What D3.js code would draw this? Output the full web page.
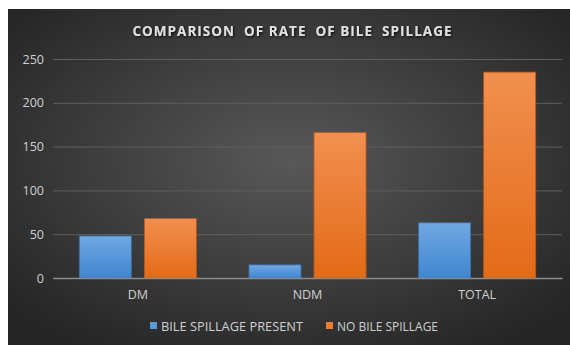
<!DOCTYPE html>
<html lang="en">
<head>
<meta charset="UTF-8">
<title>Comparison of rate of bile spillage</title>
<script src="https://d3js.org/d3.v7.min.js"></script>
<style>
  body { margin: 0; background: #fff; }
  text { font-family: "Open Sans", "Liberation Sans", sans-serif; }
</style>
</head>
<body>
<script>
// chart data
var categories = ["DM", "NDM", "TOTAL"];
var seriesNames = ["BILE SPILLAGE PRESENT", "NO BILE SPILLAGE"];
var spillPresent = [48, 15, 63];
var noSpill = [68, 166, 235];
var yTicks = [0, 50, 100, 150, 200, 250];

var W = 570, H = 345;
var svg = d3.select("body").append("svg")
    .attr("width", W)
    .attr("height", H);

var defs = svg.append("defs");
var bg = defs.append("radialGradient").attr("id", "bg")
    .attr("cx", "50%").attr("cy", "45%").attr("r", "65%");
bg.append("stop").attr("offset", "0%").attr("stop-color", "#585858");
bg.append("stop").attr("offset", "100%").attr("stop-color", "#262626");

function barGrad(id, top, bottom) {
    var g = defs.append("linearGradient").attr("id", id)
        .attr("x1", 0).attr("y1", 0).attr("x2", 0).attr("y2", 1);
    g.append("stop").attr("offset", "0%").attr("stop-color", top);
    g.append("stop").attr("offset", "100%").attr("stop-color", bottom);
}
barGrad("gBlue", "#71a8e2", "#3f86d0");
barGrad("gOrange", "#f28f50", "#e36b17");

var shadow = defs.append("filter").attr("id", "tshadow");
shadow.append("feDropShadow").attr("dx", 1).attr("dy", 1)
    .attr("stdDeviation", 1).attr("flood-color", "#000").attr("flood-opacity", 0.8);

svg.append("rect")
    .attr("x", 8).attr("y", 9)
    .attr("width", W - 8).attr("height", H - 9)
    .attr("fill", "url(#bg)");

var margin = {left: 53, right: 8, top: 59, bottom: 67};
var x0 = d3.scaleBand().domain(categories)
    .range([margin.left, W - margin.right])
    .paddingInner(0.31).paddingOuter(0.155);
var x1 = d3.scaleBand().domain(seriesNames)
    .range([0, x0.bandwidth()])
    .paddingInner(0.2);
var y = d3.scaleLinear().domain([0, 250])
    .range([H - margin.bottom, margin.top]);

// gridlines
svg.append("g")
    .attr("transform", "translate(" + margin.left + ",0)")
    .call(d3.axisLeft(y).tickValues(yTicks).tickSize(-(W - margin.right - margin.left)).tickFormat(""))
    .call(function (g) {
        g.select(".domain").remove();
        g.selectAll("line").attr("stroke", "#5f5f5f").attr("stroke-width", 1);
    });

// y labels
svg.append("g")
    .attr("transform", "translate(" + margin.left + ",0)")
    .call(d3.axisLeft(y).tickValues(yTicks).tickSize(0).tickPadding(9))
    .call(function (g) {
        g.select(".domain").remove();
        g.selectAll("text").attr("fill", "#d0d0d0").style("font-size", "12.5px");
    });

var rows = categories.map(function (c, i) {
    return [
        {cat: c, key: seriesNames[0], v: spillPresent[i], fill: "url(#gBlue)", stroke: "#3a6fa8"},
        {cat: c, key: seriesNames[1], v: noSpill[i], fill: "url(#gOrange)", stroke: "#b8581a"}
    ];
});

svg.append("g").selectAll("g")
    .data(rows).join("g")
    .attr("transform", function (d) { return "translate(" + x0(d[0].cat) + ",0)"; })
    .selectAll("rect")
    .data(function (d) { return d; }).join("rect")
    .attr("x", function (d) { return x1(d.key); })
    .attr("y", function (d) { return y(d.v); })
    .attr("width", x1.bandwidth())
    .attr("height", function (d) { return y(0) - y(d.v); })
    .attr("fill", function (d) { return d.fill; })
    .attr("stroke", function (d) { return d.stroke; })
    .attr("stroke-width", 0.8);

// x axis
svg.append("g")
    .attr("transform", "translate(0," + y(0) + ")")
    .call(d3.axisBottom(x0).tickSize(0).tickPadding(12))
    .call(function (g) {
        g.select(".domain").attr("stroke", "#8c8c8c").attr("stroke-width", 1.3);
        g.selectAll("text").attr("fill", "#d0d0d0").style("font-size", "12.5px");
    });

// title
svg.append("text")
    .attr("x", 292).attr("y", 36)
    .attr("text-anchor", "middle")
    .attr("fill", "#e0e0e0")
    .attr("font-weight", "bold")
    .attr("filter", "url(#tshadow)")
    .style("font-size", "13.5px")
    .attr("textLength", 319)
    .attr("lengthAdjust", "spacing")
    .style("white-space", "pre")
    .text("COMPARISON  OF RATE  OF BILE  SPILLAGE");

// legend
var legX = [150, 326];
var legW = [142, 101];
var legend = svg.append("g").selectAll("g")
    .data(seriesNames).join("g")
    .attr("transform", function (d, i) { return "translate(" + legX[i] + ",322)"; });
legend.append("rect")
    .attr("width", 7).attr("height", 7)
    .attr("fill", function (d, i) { return i === 0 ? "#5b9bd5" : "#ed7d31"; });
legend.append("text")
    .attr("x", 11).attr("y", 8.5)
    .attr("fill", "#d0d0d0")
    .style("font-size", "12px")
    .attr("textLength", function (d, i) { return legW[i]; })
    .attr("lengthAdjust", "spacingAndGlyphs")
    .text(function (d) { return d; });
</script>
</body>
</html>
